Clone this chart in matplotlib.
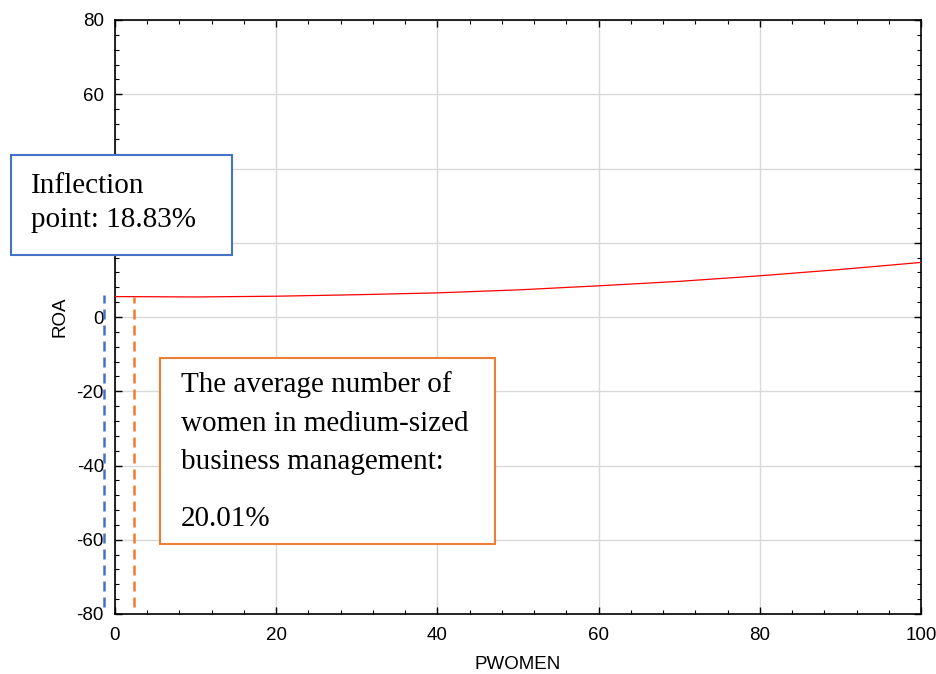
import matplotlib.pyplot as plt
from matplotlib.patches import Rectangle
from matplotlib.ticker import MultipleLocator, FuncFormatter

plt.rcParams["axes.unicode_minus"] = False

# curve values
pwomen = [0, 10, 20, 30, 40, 50, 60, 70, 80, 90, 100]
roa = [5.5, 5.4, 5.6, 6.0, 6.5, 7.3, 8.4, 9.6, 11.1, 12.8, 14.7]

# marker lines: (x, top y)
inflection_x, inflection_top = -1.4, 6.0
average_x, average_top = 2.4, 5.5
line_bottom = -78

# y tick labels covered by the inflection box in the reference
hidden_yticks = [40, 20]

inflection_text = ["Inflection", "point: 18.83%"]
average_text = ["The average number of", "women in medium-sized",
                "business management:", "20.01%"]

W, H = 937, 674
fig = plt.figure(figsize=(W / 100, H / 100), dpi=100)
ax = fig.add_axes([115 / W, 1 - 614 / H, (921 - 115) / W, (614 - 20) / H])

ax.plot(pwomen, roa, color="#ff0000", linewidth=0.9, zorder=3)
ax.plot([inflection_x, inflection_x], [line_bottom, inflection_top],
        color="#4472C4", linewidth=1.8, linestyle=(0, (4, 2.4)), clip_on=False, zorder=4)
ax.plot([average_x, average_x], [line_bottom, average_top],
        color="#ED7D31", linewidth=1.8, linestyle=(0, (4, 2.4)), clip_on=False, zorder=4)

ax.set_xlim(0, 100)
ax.set_ylim(-80, 80)
ax.xaxis.set_major_locator(MultipleLocator(20))
ax.xaxis.set_minor_locator(MultipleLocator(4))
ax.yaxis.set_major_locator(MultipleLocator(20))
ax.yaxis.set_minor_locator(MultipleLocator(4))
ax.yaxis.set_major_formatter(
    FuncFormatter(lambda v, _: "" if round(v) in hidden_yticks else f"{v:.0f}"))
ax.tick_params(which="both", direction="in", top=True, right=True, color="black")
ax.tick_params(which="major", length=5, width=1, labelsize=13.5)
ax.tick_params(axis="x", which="major", pad=9)
ax.tick_params(axis="y", which="major", pad=8)
ax.tick_params(which="minor", length=3, width=0.8)
for lab in ax.get_xticklabels() + ax.get_yticklabels():
    lab.set_family("Liberation Sans")
ax.grid(True, which="major", color="#d9d9d9", linewidth=1)
ax.set_axisbelow(True)
for s in ax.spines.values():
    s.set_linewidth(1.2)

ax.set_xlabel("PWOMEN", family="Liberation Sans", fontsize=13.5, labelpad=9)
ax.set_ylabel("ROA", family="Liberation Sans", fontsize=13.5, labelpad=6)


def box(x0, y0, x1, y1, color):
    fig.patches.append(Rectangle((x0 / W, 1 - y1 / H), (x1 - x0) / W, (y1 - y0) / H,
                                 transform=fig.transFigure, facecolor="white",
                                 edgecolor=color, linewidth=1.5, zorder=10))


def lines(x, ys, texts):
    for y, t in zip(ys, texts):
        fig.text(x / W, 1 - y / H, t, family="Liberation Serif", fontsize=21,
                 va="center", ha="left", zorder=11)


box(11, 155, 232, 255, "#4472C4")
lines(31, [186, 220], inflection_text)

box(160, 358, 495, 544, "#ED7D31")
lines(181, [385, 424, 462, 519], average_text)

fig.savefig("out.png", dpi=100)
